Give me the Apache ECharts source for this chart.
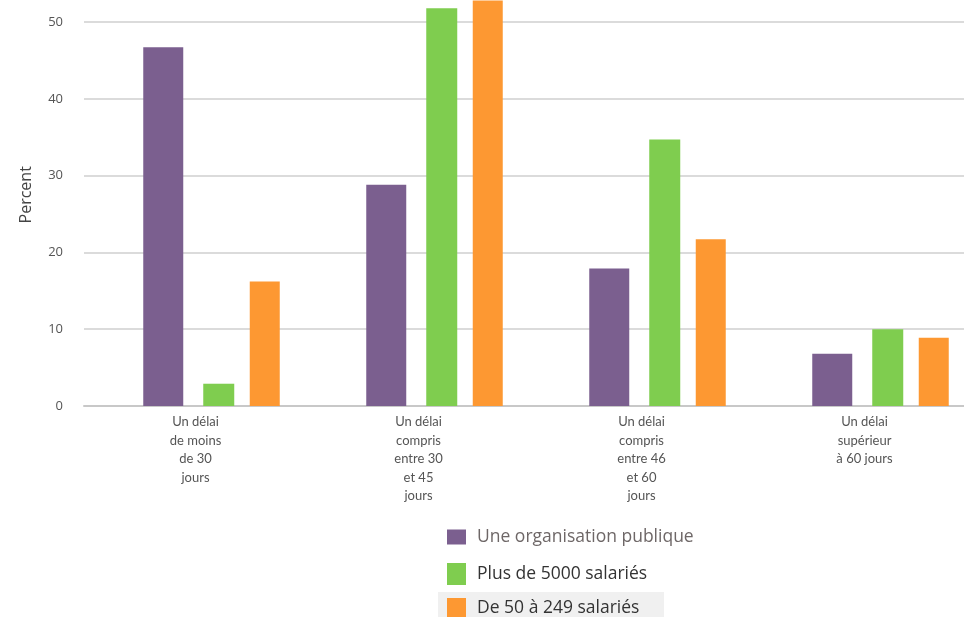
<!DOCTYPE html>
<html><head><meta charset="utf-8">
<script src="https://cdn.jsdelivr.net/npm/echarts@6/dist/echarts.min.js"></script>
<style>html,body{margin:0;padding:0;background:#fff;overflow:hidden;width:964px;height:617px}
#c{position:absolute;left:0;top:-20px;width:1000px;height:637px}</style>
</head><body><div id="c"></div>
<script>
const categories = [
  "Un délai\nde moins\nde 30\njours",
  "Un délai\ncompris\nentre 30\net 45\njours",
  "Un délai\ncompris\nentre 46\net 60\njours",
  "Un délai\nsupérieur\nà 60 jours"
];
const seriesNames = ["Une organisation publique", "Plus de 5000 salariés", "De 50 à 249 salariés"];
const publique = [46.7, 28.8, 17.9, 6.8];
const plus5000 = [2.9, 51.8, 34.7, 10.0];
const de50a249 = [16.2, 52.8, 21.7, 8.9];
const colors = ["#7b5f8f", "#7fcd4f", "#fd9832"];

const chart = echarts.init(document.getElementById('c'), null, {renderer: 'canvas'});
const yCommon = {type: 'value', min: 0, max: 55, interval: 10};
const legendBase = {orient: 'vertical', left: 442, icon: 'rect', itemWidth: 19,
  textStyle: {fontFamily: 'Open Sans', fontSize: 17.5, padding: [0, 0, 0, 6]}};
chart.setOption({
  animation: false,
  color: colors,
  grid: [
    {left: 84, top: 3.6, width: 892, height: 422.4},
    {left: 100, top: 3.6, width: 892, height: 422.4}
  ],
  legend: [
    Object.assign({}, legendBase, {top: 543, itemHeight: 15, data: [seriesNames[0]],
      textStyle: Object.assign({}, legendBase.textStyle, {color: '#6e6767'})}),
    Object.assign({}, legendBase, {top: 578, itemHeight: 22, data: [seriesNames[1]],
      textStyle: Object.assign({}, legendBase.textStyle, {color: '#333'})}),
    Object.assign({}, legendBase, {top: 613, itemHeight: 21, data: [seriesNames[2]],
      textStyle: Object.assign({}, legendBase.textStyle, {color: '#333'})})
  ],
  graphic: [{type: 'rect', left: 438, top: 612, shape: {width: 226, height: 26}, style: {fill: '#f0f0f0'}, z: -1}],
  xAxis: [
    {type: 'category', gridIndex: 0, data: categories,
     axisLine: {show: true, lineStyle: {color: '#c8c8c8', width: 2}},
     axisTick: {show: false},
     axisLabel: {interval: 0, color: '#555', fontSize: 13, lineHeight: 18.5, margin: 7, fontFamily: 'Lato'}},
    {type: 'category', gridIndex: 1, data: categories, show: false}
  ],
  yAxis: [
    Object.assign({gridIndex: 0,
      name: 'Percent', nameLocation: 'middle', nameGap: 50, nameRotate: 90,
      nameTextStyle: {color: '#444', fontSize: 16, fontFamily: 'Open Sans'},
      axisLine: {show: false}, axisTick: {show: false},
      axisLabel: {color: '#555', fontSize: 13, margin: 21, fontFamily: 'Open Sans', showMaxLabel: false},
      splitLine: {showMaxLine: false, lineStyle: {color: '#cfcfcf', width: 1.5}}}, yCommon),
    Object.assign({gridIndex: 1, show: false, splitLine: {show: false}}, yCommon)
  ],
  series: [
    {name: seriesNames[0], type: 'bar', xAxisIndex: 1, yAxisIndex: 1, data: publique, barWidth: 40, barGap: '50%'},
    {name: seriesNames[1], type: 'bar', xAxisIndex: 1, yAxisIndex: 1, data: plus5000, barWidth: 31, barGap: '50%'},
    {name: seriesNames[2], type: 'bar', xAxisIndex: 1, yAxisIndex: 1, data: de50a249, barWidth: 30, barGap: '50%'}
  ]
});
</script></body></html>
